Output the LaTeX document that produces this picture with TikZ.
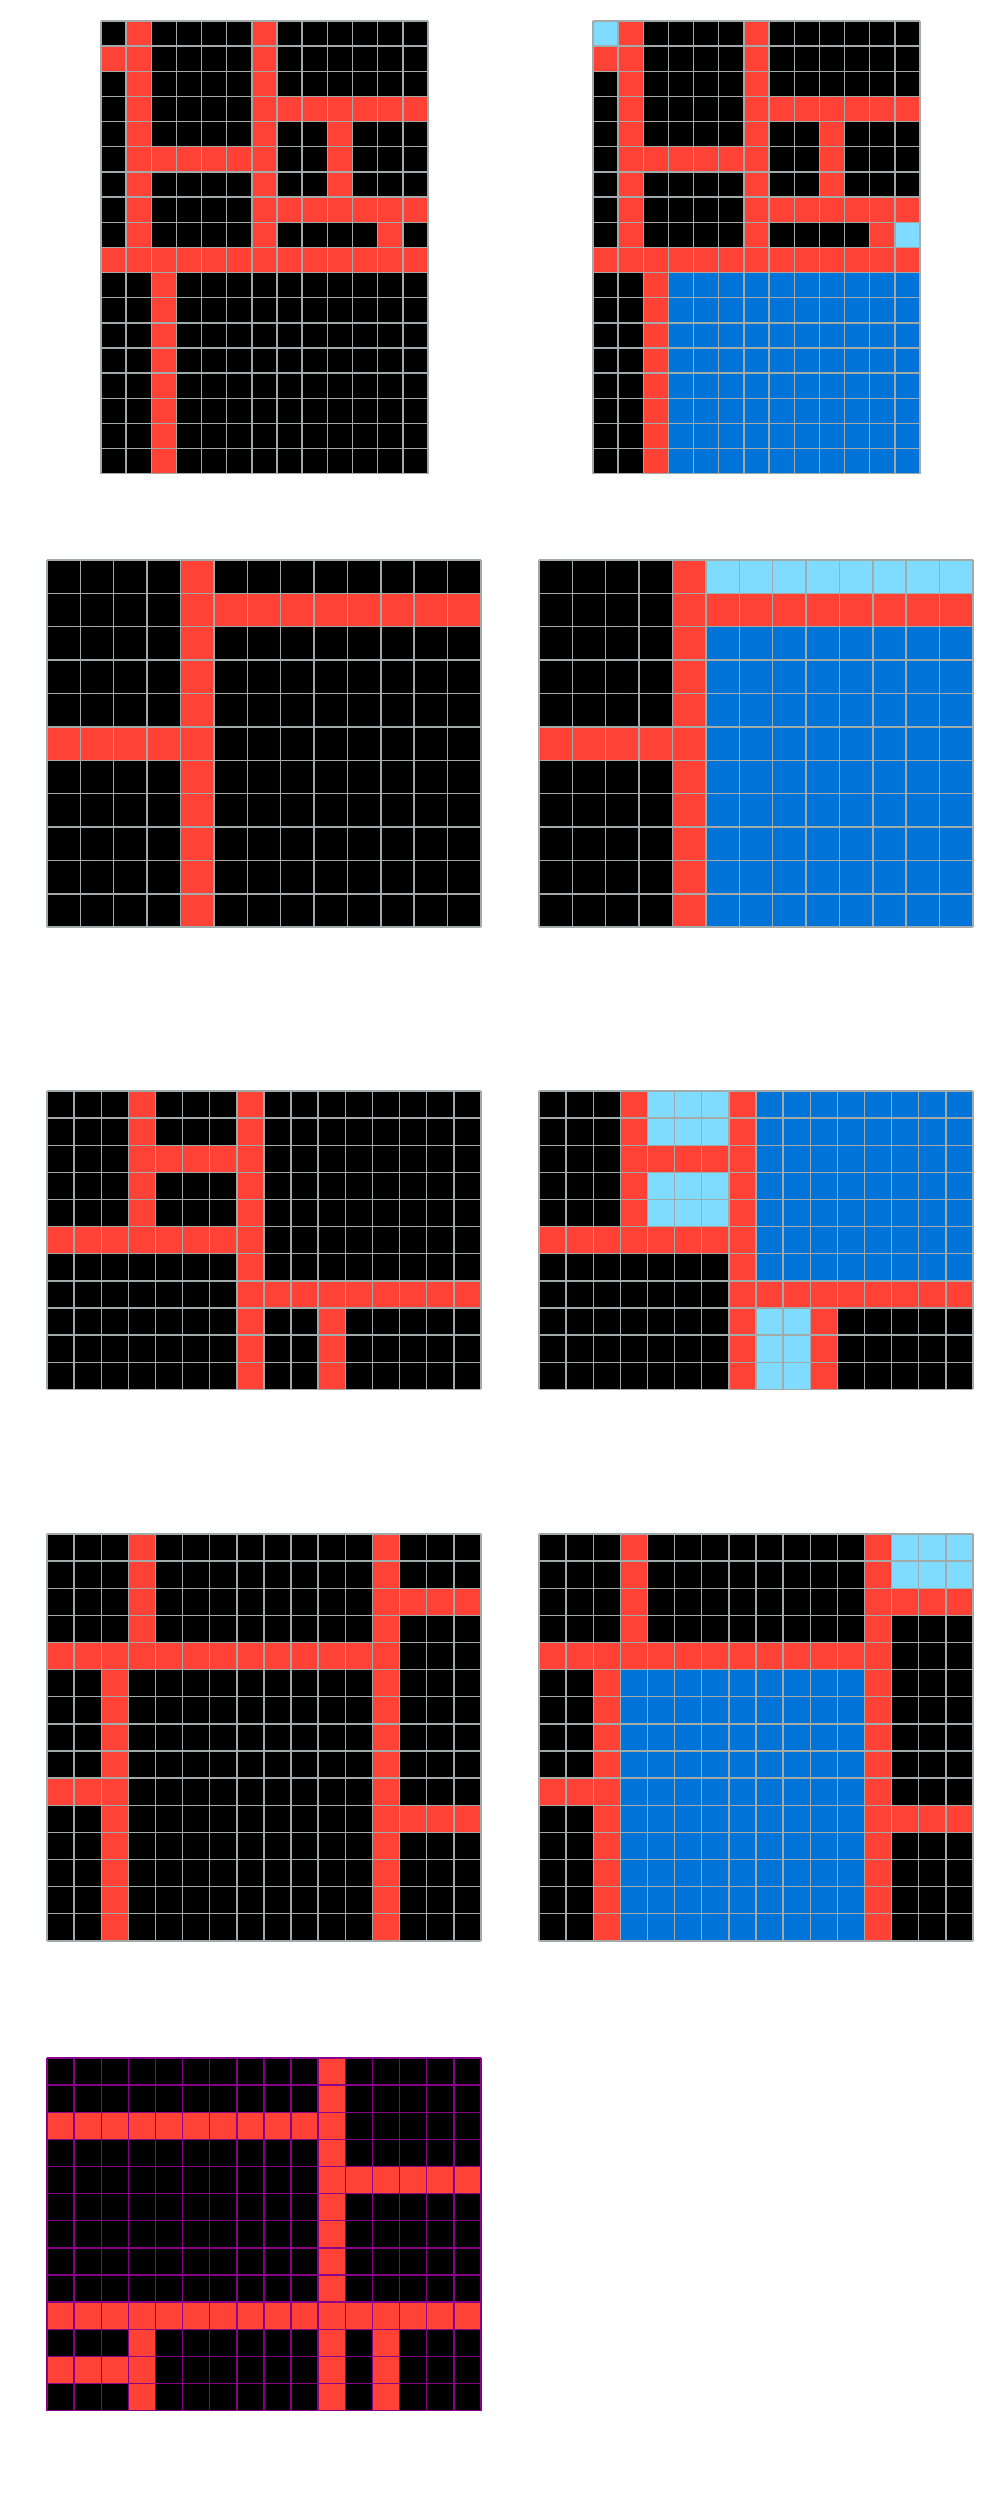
\documentclass[tikz,border=0pt]{standalone}
\usepackage{tikz}

\definecolor{arcred}{HTML}{FF4136}
\definecolor{arcblue}{HTML}{0074D9}
\definecolor{arcsky}{HTML}{7FDBFF}
\definecolor{gridgrey}{HTML}{A2AAAA}
\definecolor{gridpurple}{HTML}{880088}

\begin{document}
\begin{tikzpicture}[x=0.1mm,y=-0.1mm,
  gridline/.style={gridgrey,line width=0.4pt},
  purpleline/.style={gridpurple,line width=0.4pt},
  redcell/.style={fill=arcred},
  bluecell/.style={fill=arcblue},
  skycell/.style={fill=arcsky}]
\useasboundingbox (0,0) rectangle (1000,2500);

% first pair, 13 x 18
\begin{scope}[shift={(101,21)},x=2.515mm,y=-2.515mm]
\fill[black] (0,0) rectangle (13,18);
\foreach \a/\b/\c/\d in {1/0/2/10,0/1/1/2,6/0/7/10,6/3/13/4,9/4/10/7,1/5/7/6,6/7/13/8,11/8/12/9,0/9/13/10,2/10/3/18}
  \fill[redcell] (\a,\b) rectangle (\c,\d);
\foreach \i in {0,...,13} \draw[gridline] (\i,0) -- (\i,18);
\foreach \j in {0,...,18} \draw[gridline] (0,\j) -- (13,\j);
\end{scope}

\begin{scope}[shift={(593,21)},x=2.515mm,y=-2.515mm]
\fill[black] (0,0) rectangle (13,18);
\foreach \a/\b/\c/\d in {1/0/2/10,0/1/1/2,6/0/7/10,6/3/13/4,9/4/10/7,1/5/7/6,6/7/13/8,11/8/12/9,0/9/13/10,2/10/3/18}
  \fill[redcell] (\a,\b) rectangle (\c,\d);
\fill[skycell] (0,0) rectangle (1,1);
\fill[skycell] (12,8) rectangle (13,9);
\fill[bluecell] (3,10) rectangle (13,18);
\foreach \i in {0,...,13} \draw[gridline] (\i,0) -- (\i,18);
\foreach \j in {0,...,18} \draw[gridline] (0,\j) -- (13,\j);
\end{scope}

% second pair, 13 x 11
\begin{scope}[shift={(47,560)},x=3.338mm,y=-3.338mm]
\fill[black] (0,0) rectangle (13,11);
\foreach \a/\b/\c/\d in {4/0/5/11,4/1/13/2,0/5/5/6}
  \fill[redcell] (\a,\b) rectangle (\c,\d);
\foreach \i in {0,...,13} \draw[gridline] (\i,0) -- (\i,11);
\foreach \j in {0,...,11} \draw[gridline] (0,\j) -- (13,\j);
\end{scope}

\begin{scope}[shift={(539,560)},x=3.338mm,y=-3.338mm]
\fill[black] (0,0) rectangle (13,11);
\foreach \a/\b/\c/\d in {4/0/5/11,4/1/13/2,0/5/5/6}
  \fill[redcell] (\a,\b) rectangle (\c,\d);
\fill[skycell] (5,0) rectangle (13,1);
\fill[bluecell] (5,2) rectangle (13,11);
\foreach \i in {0,...,13} \draw[gridline] (\i,0) -- (\i,11);
\foreach \j in {0,...,11} \draw[gridline] (0,\j) -- (13,\j);
\end{scope}

% third pair, 16 x 11
\begin{scope}[shift={(47,1091)},x=2.712mm,y=-2.712mm]
\fill[black] (0,0) rectangle (16,11);
\foreach \a/\b/\c/\d in {3/0/4/6,7/0/8/11,3/2/8/3,0/5/8/6,7/7/16/8,10/8/11/11}
  \fill[redcell] (\a,\b) rectangle (\c,\d);
\foreach \i in {0,...,16} \draw[gridline] (\i,0) -- (\i,11);
\foreach \j in {0,...,11} \draw[gridline] (0,\j) -- (16,\j);
\end{scope}

\begin{scope}[shift={(539,1091)},x=2.712mm,y=-2.712mm]
\fill[black] (0,0) rectangle (16,11);
\foreach \a/\b/\c/\d in {3/0/4/6,7/0/8/11,3/2/8/3,0/5/8/6,7/7/16/8,10/8/11/11}
  \fill[redcell] (\a,\b) rectangle (\c,\d);
\foreach \a/\b/\c/\d in {4/0/7/2,4/3/7/5,8/8/10/11}
  \fill[skycell] (\a,\b) rectangle (\c,\d);
\fill[bluecell] (8,0) rectangle (16,7);
\foreach \i in {0,...,16} \draw[gridline] (\i,0) -- (\i,11);
\foreach \j in {0,...,11} \draw[gridline] (0,\j) -- (16,\j);
\end{scope}

% fourth pair, 16 x 15
\begin{scope}[shift={(47,1534)},x=2.712mm,y=-2.712mm]
\fill[black] (0,0) rectangle (16,15);
\foreach \a/\b/\c/\d in {3/0/4/5,12/0/13/15,12/2/16/3,0/4/13/5,2/5/3/15,0/9/3/10,12/10/16/11}
  \fill[redcell] (\a,\b) rectangle (\c,\d);
\foreach \i in {0,...,16} \draw[gridline] (\i,0) -- (\i,15);
\foreach \j in {0,...,15} \draw[gridline] (0,\j) -- (16,\j);
\end{scope}

\begin{scope}[shift={(539,1534)},x=2.712mm,y=-2.712mm]
\fill[black] (0,0) rectangle (16,15);
\foreach \a/\b/\c/\d in {3/0/4/5,12/0/13/15,12/2/16/3,0/4/13/5,2/5/3/15,0/9/3/10,12/10/16/11}
  \fill[redcell] (\a,\b) rectangle (\c,\d);
\fill[skycell] (13,0) rectangle (16,2);
\fill[bluecell] (3,5) rectangle (12,15);
\foreach \i in {0,...,16} \draw[gridline] (\i,0) -- (\i,15);
\foreach \j in {0,...,15} \draw[gridline] (0,\j) -- (16,\j);
\end{scope}

% test input, 16 x 13
\begin{scope}[shift={(47,2058)},x=2.712mm,y=-2.712mm]
\fill[black] (0,0) rectangle (16,13);
\foreach \a/\b/\c/\d in {10/0/11/13,0/2/11/3,10/4/16/5,0/9/16/10,3/10/4/13,0/11/4/12,12/10/13/13}
  \fill[redcell] (\a,\b) rectangle (\c,\d);
\foreach \i in {0,...,16} \draw[purpleline] (\i,0) -- (\i,13);
\foreach \j in {0,...,13} \draw[purpleline] (0,\j) -- (16,\j);
\end{scope}
\end{tikzpicture}
\end{document}
